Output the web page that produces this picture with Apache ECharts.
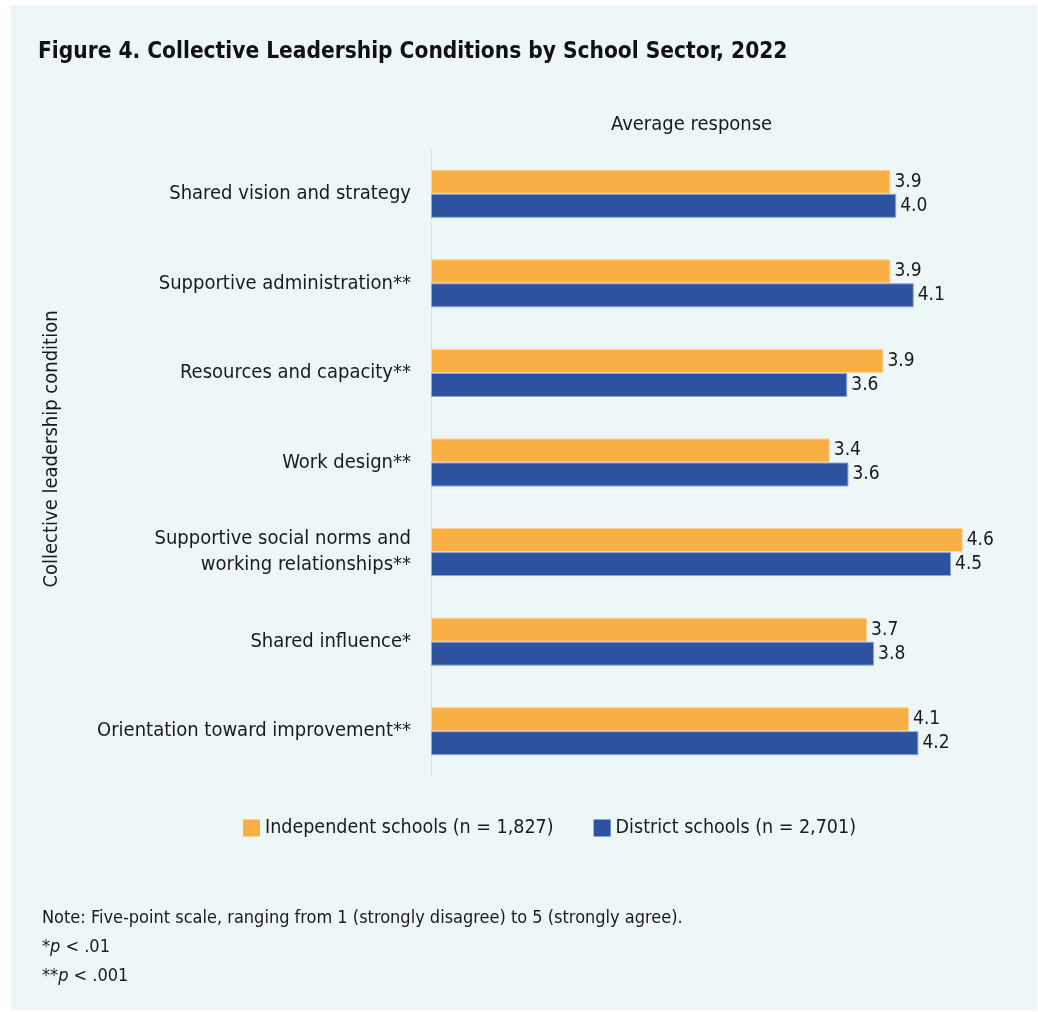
<!DOCTYPE html>
<html>
<head>
<meta charset="utf-8">
<script src="https://cdn.jsdelivr.net/npm/echarts@6/dist/echarts.min.js"></script>
<style>
  html, body { margin: 0; padding: 0; background: #ffffff; }
  #chart { position: absolute; left: 11px; top: 5px; width: 1026px; height: 1005px; background: #eef7f8; }
</style>
</head>
<body>
<div id="chart"></div>
<script>
// 类别与数据
const categories = [
  'Shared vision and strategy',
  'Supportive administration**',
  'Resources and capacity**',
  'Work design**',
  'Supportive social norms and\nworking relationships**',
  'Shared influence*',
  'Orientation toward improvement**'
];
const independentValues = [3.94, 3.94, 3.88, 3.42, 4.56, 3.74, 4.10];
const districtValues = [3.99, 4.14, 3.57, 3.58, 4.46, 3.80, 4.18];
const seriesNames = ['Independent schools (n = 1,827)', 'District schools (n = 2,701)'];
const noteLines = [
  'Note: Five-point scale, ranging from 1 (strongly disagree) to 5 (strongly agree).',
  '*p < .01',
  '**p < .001'
];

const FONT = '"Liberation Sans Narrow", "DejaVu Sans Condensed", Roboto, sans-serif';
const TEXT = '#1a1a1a';

let chartDom = document.getElementById('chart');
let chart = echarts.init(chartDom);

function barLabel() {
  return {
    show: true,
    position: 'right',
    distance: 4,
    color: TEXT,
    fontFamily: FONT,
    fontSize: 19,
    formatter: p => p.value.toFixed(1)
  };
}

let option = {
  textStyle: { fontFamily: FONT },
  title: {
    text: 'Figure 4. Collective Leadership Conditions by School Sector, 2022',
    left: 22,
    top: 31,
    textStyle: { fontFamily: FONT, fontWeight: 'bold', fontSize: 22.5, color: '#111' }
  },
  graphic: [
    {
      type: 'text',
      left: 600,
      top: 110,
      style: { text: 'Average response', fontFamily: FONT, fontSize: 20, fill: TEXT }
    },
    {
      type: 'text',
      x: 41,
      y: 444,
      rotation: Math.PI / 2,
      style: {
        text: 'Collective leadership condition',
        fontFamily: FONT, fontSize: 20, fill: TEXT,
        align: 'center', verticalAlign: 'middle'
      }
    },
    {
      type: 'text',
      left: 31,
      top: 899,
      style: {
        text: noteLines[0] + '\n{s|*}{i|p}{s| < .01}\n{s|**}{i|p}{s| < .001}',
        fontFamily: FONT, fontSize: 18, fill: TEXT, lineHeight: 29,
        rich: {
          s: { fontFamily: FONT, fontSize: 18, fill: TEXT, lineHeight: 29 },
          i: { fontFamily: FONT, fontSize: 18, fill: TEXT, fontStyle: 'italic', lineHeight: 29 }
        }
      }
    }
  ],
  legend: {
    data: seriesNames,
    left: 227,
    top: 808,
    itemWidth: 17,
    itemHeight: 17,
    itemGap: 40,
    icon: 'rect',
    itemStyle: { borderWidth: 0 },
    textStyle: { fontFamily: FONT, fontSize: 19.5, color: TEXT }
  },
  grid: {
    left: 420,
    right: 23,
    top: 144,
    bottom: 234
  },
  xAxis: {
    type: 'value',
    min: 0,
    max: 5,
    show: false
  },
  yAxis: {
    type: 'category',
    data: categories,
    inverse: true,
    axisLine: { show: true, lineStyle: { color: '#e6dede', width: 1 } },
    axisTick: { show: false },
    axisLabel: {
      margin: 20,
      color: TEXT,
      fontFamily: FONT,
      fontSize: 20,
      lineHeight: 26,
      align: 'right'
    }
  },
  series: [
    {
      name: seriesNames[0],
      type: 'bar',
      data: independentValues,
      barWidth: 24,
      barGap: '0%',
      itemStyle: { color: '#f9af43', borderColor: '#fbd39a', borderWidth: 1 },
      label: barLabel()
    },
    {
      name: seriesNames[1],
      type: 'bar',
      data: districtValues,
      barWidth: 24,
      barGap: '0%',
      itemStyle: { color: '#2c52a0', borderColor: '#8fa6d4', borderWidth: 1 },
      label: barLabel()
    }
  ]
};

chart.setOption(option);
window.addEventListener('resize', () => {
  chart.resize();
});
</script>
</body>
</html>
